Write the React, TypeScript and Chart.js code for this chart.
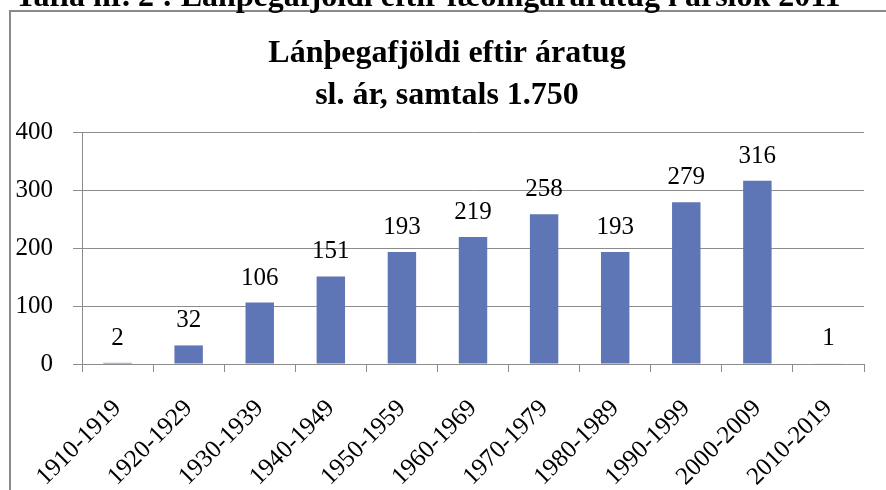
import React, { useEffect, useRef } from "react";
import { Chart, registerables } from "chart.js";

Chart.register(...registerables);

const categories = [
  "1910-1919", "1920-1929", "1930-1939", "1940-1949", "1950-1959", "1960-1969",
  "1970-1979", "1980-1989", "1990-1999", "2000-2009", "2010-2019",
];
const borrowers = [2, 32, 106, 151, 193, 219, 258, 193, 279, 316, 1];
const yTicks = [0, 100, 200, 300, 400];
const titleLines = ["Lánþegafjöldi eftir áratug", "sl. ár, samtals 1.750"];
const caption = "Tafla nr. 2 : Lánþegafjöldi eftir fæðingaráratug í árslok 2011";

const SERIF = '"Liberation Serif", "Times New Roman", serif';

const valueLabels = {
  id: "valueLabels",
  afterDatasetsDraw(chart: any) {
    const ctx = chart.ctx;
    const meta = chart.getDatasetMeta(0);
    ctx.save();
    ctx.font = `25px ${SERIF}`;
    ctx.fillStyle = "#000";
    ctx.textAlign = "center";
    ctx.textBaseline = "alphabetic";
    meta.data.forEach((bar: any, i: number) => {
      ctx.fillText(String(borrowers[i]), bar.x, bar.y - 18);
    });
    ctx.restore();
  },
};

const chartTitle = {
  id: "chartTitle",
  afterDraw(chart: any) {
    const ctx = chart.ctx;
    ctx.save();
    ctx.font = `bold 32px ${SERIF}`;
    ctx.fillStyle = "#000";
    ctx.textAlign = "center";
    ctx.textBaseline = "alphabetic";
    titleLines.forEach((line, i) => {
      ctx.fillText(line, 447, 62 + i * 42);
    });
    ctx.restore();
  },
};

export default function App() {
  const ref = useRef<HTMLCanvasElement | null>(null);
  useEffect(() => {
    if (!ref.current) return;
    const chart = new Chart(ref.current, {
      type: "bar",
      data: {
        labels: categories,
        datasets: [
          {
            data: borrowers,
            backgroundColor: "#5e75b6",
            borderWidth: 0,
            barPercentage: 0.4,
            categoryPercentage: 1,
          },
        ],
      },
      plugins: [valueLabels, chartTitle],
      options: {
        animation: false,
        responsive: false,
        devicePixelRatio: 1,
        layout: { padding: { left: 0, right: 22, top: 132, bottom: 0 } },
        plugins: {
          legend: { display: false },
          tooltip: { enabled: false },
          title: { display: false },
        },
        scales: {
          x: {
            grid: {
              offset: true,
              drawOnChartArea: false,
              drawTicks: true,
              tickLength: 8,
              color: "#8c8c8c",
            },
            border: { display: true, color: "#8c8c8c", width: 1 },
            ticks: {
              autoSkip: false,
              maxRotation: 45,
              minRotation: 45,
              padding: 22,
              color: "#000",
              font: { family: SERIF, size: 25 },
            },
            afterFit(scale: any) {
              scale.height = 126;
            },
          },
          y: {
            min: 0,
            max: 400,
            afterBuildTicks(scale: any) {
              scale.ticks = yTicks.map((v) => ({ value: v }));
            },
            grid: { color: "#8c8c8c", tickLength: 9 },
            border: { display: true, color: "#8c8c8c", width: 1 },
            ticks: {
              padding: 20,
              color: "#000",
              font: { family: SERIF, size: 25 },
            },
            afterFit(scale: any) {
              scale.width = 82;
            },
          },
        },
      },
    });
    return () => chart.destroy();
  }, []);

  return (
    <div
      style={{
        position: "fixed",
        left: 0,
        top: 0,
        width: 886,
        height: 490,
        overflow: "hidden",
        background: "#fff",
      }}
    >
      <div
        style={{
          position: "absolute",
          left: 9,
          top: 10,
          width: 900,
          height: 500,
          border: "2px solid #8a8a8a",
          boxSizing: "border-box",
        }}
      />
      <canvas
        ref={ref}
        width={886}
        height={490}
        style={{ position: "absolute", left: 0, top: 0, width: 886, height: 490 }}
      />
      <div
        style={{
          position: "absolute",
          left: 15,
          top: -23,
          whiteSpace: "nowrap",
          fontFamily: SERIF,
          fontWeight: "bold",
          fontSize: 32,
          lineHeight: "36px",
          color: "#000",
        }}
      >
        {caption}
      </div>
    </div>
  );
}
